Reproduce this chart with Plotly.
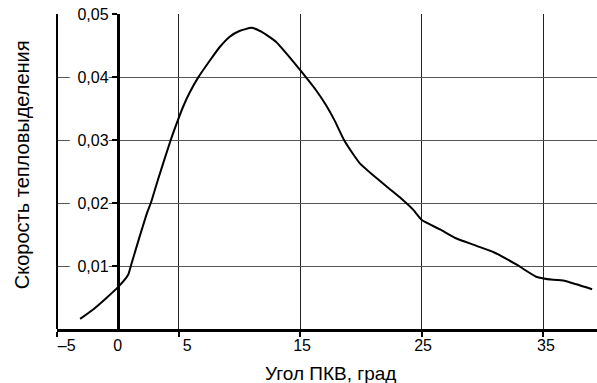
import plotly.graph_objects as go

# Data
angle = [-3.1, -1.9, 0.0, 0.85, 1.1, 1.8, 2.4, 2.75, 3.3, 4.35, 4.95, 5.35, 5.9, 6.6, 7.6,
         8.4, 9.2, 10.0, 11.0, 11.8, 13.0, 14.1, 15.2, 16.3, 17.1, 17.8, 18.6, 19.3, 19.9,
         21.0, 22.3, 23.3, 24.3, 25.0, 26.5, 27.8, 29.5, 31.0, 32.8, 34.4, 35.8, 36.6,
         37.7, 39.0]
heat_rate = [0.0016, 0.0033, 0.0066, 0.0086, 0.0102, 0.0147, 0.0184, 0.0202, 0.0237, 0.0300,
             0.0332, 0.0352, 0.0375, 0.0399, 0.0427, 0.0448, 0.0464, 0.0473, 0.0478, 0.0472,
             0.0456, 0.0432, 0.0406, 0.0379, 0.0356, 0.0332, 0.0300, 0.0279, 0.0263, 0.0244,
             0.0223, 0.0207, 0.0189, 0.0173, 0.0158, 0.0144, 0.0132, 0.0121, 0.0102, 0.0083,
             0.0078, 0.0077, 0.0071, 0.0063]

x_tick_vals = [-5, 5, 15, 25, 35]
x_label_vals = [-4.2, 0, 5.7, 15.15, 25.1, 35.2]
x_label_text = ["\u20135", "0", "5", "15", "25", "35"]
y_tick_vals = [0.01, 0.02, 0.03, 0.04, 0.05]
y_tick_text = ["0,01", "0,02", "0,03", "0,04", "0,05"]

x_title = "Угол ПКВ, град"
y_title = "Скорость тепловыделения"

X_RANGE = [-5, 39.4]
Y_RANGE = [0, 0.05]
FONT = "Liberation Sans, Arial, sans-serif"

fig = go.Figure()
fig.add_trace(go.Scatter(
    x=angle, y=heat_rate, mode="lines",
    line=dict(color="black", width=2, shape="spline", smoothing=0.5),
    showlegend=False, hoverinfo="skip",
))

# white patches behind y tick labels (interrupt gridlines)
for v in y_tick_vals:
    fig.add_shape(type="rect", xref="x", yref="y", layer="between",
                  x0=-3.95, x1=-0.75, y0=v - 0.0008, y1=v + 0.0008,
                  fillcolor="white", line=dict(width=0))

fig.update_layout(
    width=597, height=383,
    margin=dict(l=57, r=0, t=14, b=54, autoexpand=False),
    paper_bgcolor="white", plot_bgcolor="white",
    font=dict(family=FONT, size=15, color="black"),
    xaxis=dict(
        range=X_RANGE, tickvals=x_tick_vals, showticklabels=False,
        ticks="outside", ticklen=5, tickwidth=2, tickcolor="black",
        showgrid=True, gridcolor="#222222", gridwidth=1,
        showline=True, linecolor="black", linewidth=3,
        zeroline=False, anchor="y", automargin=False,
    ),
    xaxis2=dict(
        range=X_RANGE, overlaying="x", anchor="y", side="bottom",
        tickvals=x_label_vals, ticktext=x_label_text, ticks="",
        showgrid=False, showline=False, zeroline=False,
        tickfont=dict(family=FONT, size=16, color="black"),
        ticklabelstandoff=5, automargin=False,
    ),
    yaxis=dict(
        range=Y_RANGE, tickvals=y_tick_vals, ticktext=y_tick_text,
        anchor="free", position=5 / 44.4, side="left",
        ticks="outside", ticklen=5, tickwidth=2, tickcolor="black",
        showgrid=True, gridcolor="#555555", gridwidth=1,
        showline=True, linecolor="black", linewidth=3,
        zeroline=False, automargin=False,
        tickfont=dict(family=FONT, size=16, color="black"),
    ),
    yaxis2=dict(
        range=Y_RANGE, overlaying="y", anchor="free", position=0, side="left",
        showticklabels=False, ticks="", showgrid=False, zeroline=False,
        showline=True, linecolor="black", linewidth=2, automargin=False,
    ),
    annotations=[
        dict(text=x_title, xref="paper", yref="paper", x=0.506, y=0,
             yshift=-44, xanchor="center", yanchor="middle", showarrow=False,
             font=dict(family=FONT, size=19, color="black")),
        dict(text=y_title, xref="paper", yref="paper", x=0, y=0.52,
             xshift=-35, xanchor="center", yanchor="middle", textangle=-90,
             showarrow=False, font=dict(family=FONT, size=20, color="black")),
    ],
)

# invisible trace to activate the secondary axes
fig.add_trace(go.Scatter(x=[None], y=[None], xaxis="x2", yaxis="y2",
                         showlegend=False, hoverinfo="skip"))

fig.write_html("out.html", config={"displayModeBar": False},
               post_script="document.body.style.margin='0';")
